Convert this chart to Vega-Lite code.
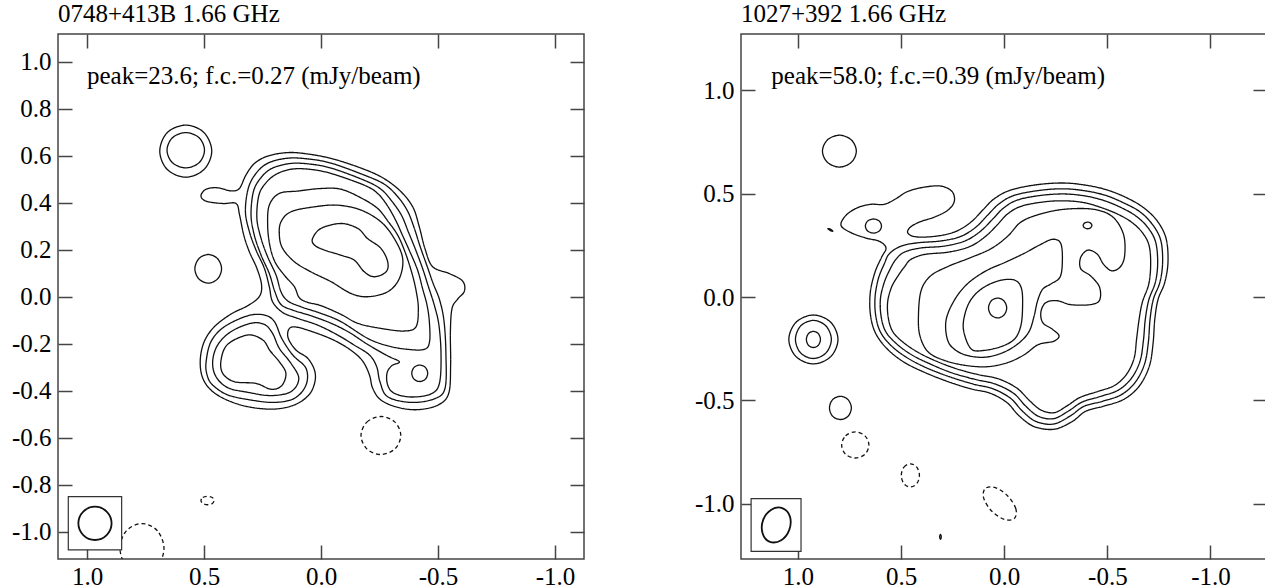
{
"$schema":"https://vega.github.io/schema/vega-lite/v6.json",
"background":"white",
"padding":{"left":10,"top":1,"right":0,"bottom":0},
"config":{
 "font":"Liberation Serif",
 "view":{"stroke":"#444","strokeWidth":1.5},
 "axis":{"domain":false,"grid":false,"tickColor":"#444","tickWidth":1.5,"tickSize":-14,"labelPadding":21,"labelFont":"Liberation Serif","labelFontSize":25,"labelColor":"black","title":null,"zindex":1},
 "axisBottom":{"labelPadding":19},
 "title":{"font":"Liberation Serif","fontSize":25,"fontWeight":"normal","anchor":"start","frame":"group","color":"black","offset":6}
},
"datasets":{
"A":[
{"c":"L1","i":0,"x":0.513,"y":0.430,"s":"p"},{"c":"L1","i":1,"x":0.491,"y":0.458,"s":"p"},{"c":"L1","i":2,"x":0.442,"y":0.464,"s":"p"},{"c":"L1","i":3,"x":0.385,"y":0.451,"s":"p"},{"c":"L1","i":4,"x":0.349,"y":0.461,"s":"p"},{"c":"L1","i":5,"x":0.321,"y":0.518,"s":"p"},{"c":"L1","i":6,"x":0.285,"y":0.567,"s":"p"},{"c":"L1","i":7,"x":0.228,"y":0.599,"s":"p"},{"c":"L1","i":8,"x":0.142,"y":0.614,"s":"p"},{"c":"L1","i":9,"x":0.057,"y":0.608,"s":"p"},{"c":"L1","i":10,"x":-0.043,"y":0.589,"s":"p"},{"c":"L1","i":11,"x":-0.157,"y":0.553,"s":"p"},{"c":"L1","i":12,"x":-0.256,"y":0.511,"s":"p"},{"c":"L1","i":13,"x":-0.335,"y":0.454,"s":"p"},{"c":"L1","i":14,"x":-0.392,"y":0.383,"s":"p"},{"c":"L1","i":15,"x":-0.420,"y":0.298,"s":"p"},{"c":"L1","i":16,"x":-0.444,"y":0.206,"s":"p"},{"c":"L1","i":17,"x":-0.477,"y":0.128,"s":"p"},{"c":"L1","i":18,"x":-0.548,"y":0.099,"s":"p"},{"c":"L1","i":19,"x":-0.605,"y":0.067,"s":"p"},{"c":"L1","i":20,"x":-0.613,"y":0.024,"s":"p"},{"c":"L1","i":21,"x":-0.584,"y":-0.010,"s":"p"},{"c":"L1","i":22,"x":-0.560,"y":-0.050,"s":"p"},{"c":"L1","i":23,"x":-0.553,"y":-0.149,"s":"p"},{"c":"L1","i":24,"x":-0.554,"y":-0.291,"s":"p"},{"c":"L1","i":25,"x":-0.546,"y":-0.411,"s":"p"},{"c":"L1","i":26,"x":-0.501,"y":-0.461,"s":"p"},{"c":"L1","i":27,"x":-0.413,"y":-0.481,"s":"p"},{"c":"L1","i":28,"x":-0.328,"y":-0.471,"s":"p"},{"c":"L1","i":29,"x":-0.256,"y":-0.440,"s":"p"},{"c":"L1","i":30,"x":-0.221,"y":-0.390,"s":"p"},{"c":"L1","i":31,"x":-0.207,"y":-0.333,"s":"p"},{"c":"L1","i":32,"x":-0.178,"y":-0.274,"s":"p"},{"c":"L1","i":33,"x":-0.128,"y":-0.228,"s":"p"},{"c":"L1","i":34,"x":-0.057,"y":-0.186,"s":"p"},{"c":"L1","i":35,"x":0.028,"y":-0.152,"s":"p"},{"c":"L1","i":36,"x":0.107,"y":-0.129,"s":"p"},{"c":"L1","i":37,"x":0.137,"y":-0.138,"s":"p"},{"c":"L1","i":38,"x":0.140,"y":-0.177,"s":"p"},{"c":"L1","i":39,"x":0.107,"y":-0.227,"s":"p"},{"c":"L1","i":40,"x":0.057,"y":-0.262,"s":"p"},{"c":"L1","i":41,"x":0.028,"y":-0.312,"s":"p"},{"c":"L1","i":42,"x":0.026,"y":-0.362,"s":"p"},{"c":"L1","i":43,"x":0.050,"y":-0.416,"s":"p"},{"c":"L1","i":44,"x":0.107,"y":-0.458,"s":"p"},{"c":"L1","i":45,"x":0.192,"y":-0.478,"s":"p"},{"c":"L1","i":46,"x":0.292,"y":-0.472,"s":"p"},{"c":"L1","i":47,"x":0.385,"y":-0.447,"s":"p"},{"c":"L1","i":48,"x":0.463,"y":-0.404,"s":"p"},{"c":"L1","i":49,"x":0.506,"y":-0.345,"s":"p"},{"c":"L1","i":50,"x":0.516,"y":-0.269,"s":"p"},{"c":"L1","i":51,"x":0.499,"y":-0.191,"s":"p"},{"c":"L1","i":52,"x":0.456,"y":-0.128,"s":"p"},{"c":"L1","i":53,"x":0.385,"y":-0.074,"s":"p"},{"c":"L1","i":54,"x":0.313,"y":-0.038,"s":"p"},{"c":"L1","i":55,"x":0.264,"y":0.000,"s":"p"},{"c":"L1","i":56,"x":0.254,"y":0.050,"s":"p"},{"c":"L1","i":57,"x":0.274,"y":0.121,"s":"p"},{"c":"L1","i":58,"x":0.306,"y":0.191,"s":"p"},{"c":"L1","i":59,"x":0.330,"y":0.262,"s":"p"},{"c":"L1","i":60,"x":0.348,"y":0.348,"s":"p"},{"c":"L1","i":61,"x":0.363,"y":0.397,"s":"p"},{"c":"L1","i":62,"x":0.420,"y":0.397,"s":"p"},{"c":"L1","i":63,"x":0.491,"y":0.407,"s":"p"},
{"c":"L2","i":0,"x":0.323,"y":0.362,"s":"p"},{"c":"L2","i":1,"x":0.311,"y":0.461,"s":"p"},{"c":"L2","i":2,"x":0.278,"y":0.525,"s":"p"},{"c":"L2","i":3,"x":0.225,"y":0.570,"s":"p"},{"c":"L2","i":4,"x":0.142,"y":0.590,"s":"p"},{"c":"L2","i":5,"x":0.057,"y":0.587,"s":"p"},{"c":"L2","i":6,"x":-0.043,"y":0.569,"s":"p"},{"c":"L2","i":7,"x":-0.185,"y":0.518,"s":"p"},{"c":"L2","i":8,"x":-0.271,"y":0.479,"s":"p"},{"c":"L2","i":9,"x":-0.328,"y":0.426,"s":"p"},{"c":"L2","i":10,"x":-0.370,"y":0.365,"s":"p"},{"c":"L2","i":11,"x":-0.399,"y":0.291,"s":"p"},{"c":"L2","i":12,"x":-0.424,"y":0.213,"s":"p"},{"c":"L2","i":13,"x":-0.456,"y":0.123,"s":"p"},{"c":"L2","i":14,"x":-0.479,"y":0.057,"s":"p"},{"c":"L2","i":15,"x":-0.507,"y":-0.014,"s":"p"},{"c":"L2","i":16,"x":-0.526,"y":-0.106,"s":"p"},{"c":"L2","i":17,"x":-0.534,"y":-0.248,"s":"p"},{"c":"L2","i":18,"x":-0.530,"y":-0.390,"s":"p"},{"c":"L2","i":19,"x":-0.484,"y":-0.435,"s":"p"},{"c":"L2","i":20,"x":-0.385,"y":-0.450,"s":"p"},{"c":"L2","i":21,"x":-0.285,"y":-0.426,"s":"p"},{"c":"L2","i":22,"x":-0.252,"y":-0.362,"s":"p"},{"c":"L2","i":23,"x":-0.238,"y":-0.298,"s":"p"},{"c":"L2","i":24,"x":-0.207,"y":-0.248,"s":"p"},{"c":"L2","i":25,"x":-0.142,"y":-0.206,"s":"p"},{"c":"L2","i":26,"x":-0.071,"y":-0.163,"s":"p"},{"c":"L2","i":27,"x":0.014,"y":-0.121,"s":"p"},{"c":"L2","i":28,"x":0.100,"y":-0.092,"s":"p"},{"c":"L2","i":29,"x":0.164,"y":-0.067,"s":"p"},{"c":"L2","i":30,"x":0.207,"y":-0.021,"s":"p"},{"c":"L2","i":31,"x":0.221,"y":0.043,"s":"p"},{"c":"L2","i":32,"x":0.242,"y":0.121,"s":"p"},{"c":"L2","i":33,"x":0.278,"y":0.199,"s":"p"},{"c":"L2","i":34,"x":0.306,"y":0.277,"s":"p"},
{"c":"L3","i":0,"x":0.299,"y":0.348,"s":"p"},{"c":"L3","i":1,"x":0.289,"y":0.447,"s":"p"},{"c":"L3","i":2,"x":0.259,"y":0.504,"s":"p"},{"c":"L3","i":3,"x":0.211,"y":0.546,"s":"p"},{"c":"L3","i":4,"x":0.135,"y":0.567,"s":"p"},{"c":"L3","i":5,"x":0.057,"y":0.566,"s":"p"},{"c":"L3","i":6,"x":-0.043,"y":0.548,"s":"p"},{"c":"L3","i":7,"x":-0.185,"y":0.496,"s":"p"},{"c":"L3","i":8,"x":-0.256,"y":0.458,"s":"p"},{"c":"L3","i":9,"x":-0.305,"y":0.404,"s":"p"},{"c":"L3","i":10,"x":-0.345,"y":0.345,"s":"p"},{"c":"L3","i":11,"x":-0.373,"y":0.277,"s":"p"},{"c":"L3","i":12,"x":-0.402,"y":0.206,"s":"p"},{"c":"L3","i":13,"x":-0.434,"y":0.121,"s":"p"},{"c":"L3","i":14,"x":-0.459,"y":0.043,"s":"p"},{"c":"L3","i":15,"x":-0.484,"y":-0.035,"s":"p"},{"c":"L3","i":16,"x":-0.504,"y":-0.121,"s":"p"},{"c":"L3","i":17,"x":-0.513,"y":-0.248,"s":"p"},{"c":"L3","i":18,"x":-0.506,"y":-0.369,"s":"p"},{"c":"L3","i":19,"x":-0.470,"y":-0.414,"s":"p"},{"c":"L3","i":20,"x":-0.385,"y":-0.427,"s":"p"},{"c":"L3","i":21,"x":-0.313,"y":-0.411,"s":"p"},{"c":"L3","i":22,"x":-0.285,"y":-0.376,"s":"p"},{"c":"L3","i":23,"x":-0.282,"y":-0.326,"s":"p"},{"c":"L3","i":24,"x":-0.302,"y":-0.294,"s":"p"},{"c":"L3","i":25,"x":-0.335,"y":-0.277,"s":"p"},{"c":"L3","i":26,"x":-0.285,"y":-0.252,"s":"p"},{"c":"L3","i":27,"x":-0.199,"y":-0.203,"s":"p"},{"c":"L3","i":28,"x":-0.121,"y":-0.152,"s":"p"},{"c":"L3","i":29,"x":-0.043,"y":-0.113,"s":"p"},{"c":"L3","i":30,"x":0.043,"y":-0.081,"s":"p"},{"c":"L3","i":31,"x":0.121,"y":-0.057,"s":"p"},{"c":"L3","i":32,"x":0.171,"y":-0.033,"s":"p"},{"c":"L3","i":33,"x":0.197,"y":0.021,"s":"p"},{"c":"L3","i":34,"x":0.221,"y":0.099,"s":"p"},{"c":"L3","i":35,"x":0.256,"y":0.177,"s":"p"},{"c":"L3","i":36,"x":0.285,"y":0.262,"s":"p"},
{"c":"L4","i":0,"x":0.274,"y":0.333,"s":"p"},{"c":"L4","i":1,"x":0.266,"y":0.430,"s":"p"},{"c":"L4","i":2,"x":0.238,"y":0.482,"s":"p"},{"c":"L4","i":3,"x":0.191,"y":0.522,"s":"p"},{"c":"L4","i":4,"x":0.128,"y":0.543,"s":"p"},{"c":"L4","i":5,"x":0.050,"y":0.543,"s":"p"},{"c":"L4","i":6,"x":-0.043,"y":0.525,"s":"p"},{"c":"L4","i":7,"x":-0.185,"y":0.475,"s":"p"},{"c":"L4","i":8,"x":-0.242,"y":0.440,"s":"p"},{"c":"L4","i":9,"x":-0.285,"y":0.386,"s":"p"},{"c":"L4","i":10,"x":-0.321,"y":0.322,"s":"p"},{"c":"L4","i":11,"x":-0.349,"y":0.260,"s":"p"},{"c":"L4","i":12,"x":-0.379,"y":0.194,"s":"p"},{"c":"L4","i":13,"x":-0.413,"y":0.113,"s":"p"},{"c":"L4","i":14,"x":-0.434,"y":0.035,"s":"p"},{"c":"L4","i":15,"x":-0.453,"y":-0.035,"s":"p"},{"c":"L4","i":16,"x":-0.463,"y":-0.106,"s":"p"},{"c":"L4","i":17,"x":-0.464,"y":-0.191,"s":"p"},{"c":"L4","i":18,"x":-0.442,"y":-0.224,"s":"p"},{"c":"L4","i":19,"x":-0.370,"y":-0.224,"s":"p"},{"c":"L4","i":20,"x":-0.285,"y":-0.209,"s":"p"},{"c":"L4","i":21,"x":-0.199,"y":-0.177,"s":"p"},{"c":"L4","i":22,"x":-0.085,"y":-0.106,"s":"p"},{"c":"L4","i":23,"x":0.000,"y":-0.071,"s":"p"},{"c":"L4","i":24,"x":0.085,"y":-0.043,"s":"p"},{"c":"L4","i":25,"x":0.142,"y":-0.018,"s":"p"},{"c":"L4","i":26,"x":0.171,"y":0.021,"s":"p"},{"c":"L4","i":27,"x":0.192,"y":0.092,"s":"p"},{"c":"L4","i":28,"x":0.228,"y":0.170,"s":"p"},{"c":"L4","i":29,"x":0.256,"y":0.248,"s":"p"},
{"c":"L5","i":0,"x":0.228,"y":0.305,"s":"p"},{"c":"L5","i":1,"x":0.221,"y":0.390,"s":"p"},{"c":"L5","i":2,"x":0.178,"y":0.440,"s":"p"},{"c":"L5","i":3,"x":0.100,"y":0.450,"s":"p"},{"c":"L5","i":4,"x":0.000,"y":0.461,"s":"p"},{"c":"L5","i":5,"x":-0.085,"y":0.458,"s":"p"},{"c":"L5","i":6,"x":-0.171,"y":0.421,"s":"p"},{"c":"L5","i":7,"x":-0.242,"y":0.376,"s":"p"},{"c":"L5","i":8,"x":-0.288,"y":0.319,"s":"p"},{"c":"L5","i":9,"x":-0.328,"y":0.262,"s":"p"},{"c":"L5","i":10,"x":-0.359,"y":0.191,"s":"p"},{"c":"L5","i":11,"x":-0.387,"y":0.106,"s":"p"},{"c":"L5","i":12,"x":-0.406,"y":0.028,"s":"p"},{"c":"L5","i":13,"x":-0.416,"y":-0.050,"s":"p"},{"c":"L5","i":14,"x":-0.406,"y":-0.128,"s":"p"},{"c":"L5","i":15,"x":-0.356,"y":-0.146,"s":"p"},{"c":"L5","i":16,"x":-0.256,"y":-0.135,"s":"p"},{"c":"L5","i":17,"x":-0.157,"y":-0.113,"s":"p"},{"c":"L5","i":18,"x":-0.085,"y":-0.075,"s":"p"},{"c":"L5","i":19,"x":0.000,"y":-0.038,"s":"p"},{"c":"L5","i":20,"x":0.057,"y":-0.024,"s":"p"},{"c":"L5","i":21,"x":0.093,"y":-0.004,"s":"p"},{"c":"L5","i":22,"x":0.114,"y":0.043,"s":"p"},{"c":"L5","i":23,"x":0.157,"y":0.092,"s":"p"},{"c":"L5","i":24,"x":0.197,"y":0.149,"s":"p"},{"c":"L5","i":25,"x":0.219,"y":0.220,"s":"p"},
{"c":"L6","i":0,"x":0.171,"y":0.319,"s":"p"},{"c":"L6","i":1,"x":0.128,"y":0.362,"s":"p"},{"c":"L6","i":2,"x":0.028,"y":0.383,"s":"p"},{"c":"L6","i":3,"x":-0.071,"y":0.390,"s":"p"},{"c":"L6","i":4,"x":-0.171,"y":0.369,"s":"p"},{"c":"L6","i":5,"x":-0.256,"y":0.319,"s":"p"},{"c":"L6","i":6,"x":-0.313,"y":0.248,"s":"p"},{"c":"L6","i":7,"x":-0.349,"y":0.163,"s":"p"},{"c":"L6","i":8,"x":-0.335,"y":0.078,"s":"p"},{"c":"L6","i":9,"x":-0.285,"y":0.021,"s":"p"},{"c":"L6","i":10,"x":-0.199,"y":0.000,"s":"p"},{"c":"L6","i":11,"x":-0.128,"y":0.014,"s":"p"},{"c":"L6","i":12,"x":-0.043,"y":0.064,"s":"p"},{"c":"L6","i":13,"x":0.043,"y":0.106,"s":"p"},{"c":"L6","i":14,"x":0.114,"y":0.149,"s":"p"},{"c":"L6","i":15,"x":0.164,"y":0.206,"s":"p"},{"c":"L6","i":16,"x":0.178,"y":0.262,"s":"p"},
{"c":"L7","i":0,"x":0.036,"y":0.248,"s":"p"},{"c":"L7","i":1,"x":0.000,"y":0.291,"s":"p"},{"c":"L7","i":2,"x":-0.085,"y":0.312,"s":"p"},{"c":"L7","i":3,"x":-0.157,"y":0.291,"s":"p"},{"c":"L7","i":4,"x":-0.199,"y":0.248,"s":"p"},{"c":"L7","i":5,"x":-0.256,"y":0.206,"s":"p"},{"c":"L7","i":6,"x":-0.285,"y":0.149,"s":"p"},{"c":"L7","i":7,"x":-0.278,"y":0.106,"s":"p"},{"c":"L7","i":8,"x":-0.228,"y":0.085,"s":"p"},{"c":"L7","i":9,"x":-0.185,"y":0.106,"s":"p"},{"c":"L7","i":10,"x":-0.142,"y":0.156,"s":"p"},{"c":"L7","i":11,"x":-0.085,"y":0.177,"s":"p"},{"c":"L7","i":12,"x":-0.014,"y":0.199,"s":"p"},{"c":"L7","i":13,"x":0.028,"y":0.220,"s":"p"},
{"c":"M2","i":0,"x":0.491,"y":-0.277,"s":"p"},{"c":"M2","i":1,"x":0.470,"y":-0.191,"s":"p"},{"c":"M2","i":2,"x":0.413,"y":-0.128,"s":"p"},{"c":"M2","i":3,"x":0.313,"y":-0.081,"s":"p"},{"c":"M2","i":4,"x":0.242,"y":-0.078,"s":"p"},{"c":"M2","i":5,"x":0.199,"y":-0.106,"s":"p"},{"c":"M2","i":6,"x":0.168,"y":-0.177,"s":"p"},{"c":"M2","i":7,"x":0.121,"y":-0.248,"s":"p"},{"c":"M2","i":8,"x":0.064,"y":-0.305,"s":"p"},{"c":"M2","i":9,"x":0.064,"y":-0.376,"s":"p"},{"c":"M2","i":10,"x":0.114,"y":-0.433,"s":"p"},{"c":"M2","i":11,"x":0.199,"y":-0.450,"s":"p"},{"c":"M2","i":12,"x":0.299,"y":-0.440,"s":"p"},{"c":"M2","i":13,"x":0.399,"y":-0.418,"s":"p"},{"c":"M2","i":14,"x":0.463,"y":-0.376,"s":"p"},{"c":"M2","i":15,"x":0.487,"y":-0.333,"s":"p"},
{"c":"M3","i":0,"x":0.463,"y":-0.277,"s":"p"},{"c":"M3","i":1,"x":0.442,"y":-0.206,"s":"p"},{"c":"M3","i":2,"x":0.385,"y":-0.149,"s":"p"},{"c":"M3","i":3,"x":0.299,"y":-0.113,"s":"p"},{"c":"M3","i":4,"x":0.242,"y":-0.118,"s":"p"},{"c":"M3","i":5,"x":0.207,"y":-0.156,"s":"p"},{"c":"M3","i":6,"x":0.178,"y":-0.220,"s":"p"},{"c":"M3","i":7,"x":0.128,"y":-0.284,"s":"p"},{"c":"M3","i":8,"x":0.095,"y":-0.348,"s":"p"},{"c":"M3","i":9,"x":0.128,"y":-0.404,"s":"p"},{"c":"M3","i":10,"x":0.214,"y":-0.421,"s":"p"},{"c":"M3","i":11,"x":0.313,"y":-0.407,"s":"p"},{"c":"M3","i":12,"x":0.399,"y":-0.387,"s":"p"},{"c":"M3","i":13,"x":0.449,"y":-0.340,"s":"p"},
{"c":"M4","i":0,"x":0.427,"y":-0.269,"s":"p"},{"c":"M4","i":1,"x":0.399,"y":-0.203,"s":"p"},{"c":"M4","i":2,"x":0.313,"y":-0.163,"s":"p"},{"c":"M4","i":3,"x":0.249,"y":-0.184,"s":"p"},{"c":"M4","i":4,"x":0.217,"y":-0.231,"s":"p"},{"c":"M4","i":5,"x":0.178,"y":-0.277,"s":"p"},{"c":"M4","i":6,"x":0.150,"y":-0.326,"s":"p"},{"c":"M4","i":7,"x":0.168,"y":-0.379,"s":"p"},{"c":"M4","i":8,"x":0.214,"y":-0.394,"s":"p"},{"c":"M4","i":9,"x":0.278,"y":-0.369,"s":"p"},{"c":"M4","i":10,"x":0.370,"y":-0.362,"s":"p"},{"c":"M4","i":11,"x":0.420,"y":-0.326,"s":"p"},
{"c":"E1","i":0,"x":0.689,"y":0.620,"s":"p"},{"c":"E1","i":1,"x":0.657,"y":0.699,"s":"p"},{"c":"E1","i":2,"x":0.578,"y":0.731,"s":"p"},{"c":"E1","i":3,"x":0.500,"y":0.699,"s":"p"},{"c":"E1","i":4,"x":0.467,"y":0.620,"s":"p"},{"c":"E1","i":5,"x":0.500,"y":0.542,"s":"p"},{"c":"E1","i":6,"x":0.578,"y":0.509,"s":"p"},{"c":"E1","i":7,"x":0.657,"y":0.542,"s":"p"},
{"c":"E2","i":0,"x":0.658,"y":0.624,"s":"p"},{"c":"E2","i":1,"x":0.635,"y":0.677,"s":"p"},{"c":"E2","i":2,"x":0.578,"y":0.699,"s":"p"},{"c":"E2","i":3,"x":0.521,"y":0.677,"s":"p"},{"c":"E2","i":4,"x":0.498,"y":0.624,"s":"p"},{"c":"E2","i":5,"x":0.521,"y":0.571,"s":"p"},{"c":"E2","i":6,"x":0.578,"y":0.549,"s":"p"},{"c":"E2","i":7,"x":0.635,"y":0.571,"s":"p"},
{"c":"E3","i":0,"x":0.539,"y":0.119,"s":"p"},{"c":"E3","i":1,"x":0.522,"y":0.162,"s":"p"},{"c":"E3","i":2,"x":0.482,"y":0.180,"s":"p"},{"c":"E3","i":3,"x":0.442,"y":0.162,"s":"p"},{"c":"E3","i":4,"x":0.425,"y":0.119,"s":"p"},{"c":"E3","i":5,"x":0.442,"y":0.076,"s":"p"},{"c":"E3","i":6,"x":0.482,"y":0.058,"s":"p"},{"c":"E3","i":7,"x":0.522,"y":0.076,"s":"p"},
{"c":"E4","i":0,"x":-0.388,"y":-0.326,"s":"p"},{"c":"E4","i":1,"x":-0.398,"y":-0.301,"s":"p"},{"c":"E4","i":2,"x":-0.422,"y":-0.291,"s":"p"},{"c":"E4","i":3,"x":-0.446,"y":-0.301,"s":"p"},{"c":"E4","i":4,"x":-0.456,"y":-0.326,"s":"p"},{"c":"E4","i":5,"x":-0.446,"y":-0.351,"s":"p"},{"c":"E4","i":6,"x":-0.422,"y":-0.361,"s":"p"},{"c":"E4","i":7,"x":-0.398,"y":-0.351,"s":"p"},
{"c":"N1","i":0,"x":-0.171,"y":-0.591,"s":"n"},{"c":"N1","i":1,"x":-0.196,"y":-0.534,"s":"n"},{"c":"N1","i":2,"x":-0.256,"y":-0.510,"s":"n"},{"c":"N1","i":3,"x":-0.316,"y":-0.534,"s":"n"},{"c":"N1","i":4,"x":-0.341,"y":-0.591,"s":"n"},{"c":"N1","i":5,"x":-0.316,"y":-0.648,"s":"n"},{"c":"N1","i":6,"x":-0.256,"y":-0.672,"s":"n"},{"c":"N1","i":7,"x":-0.196,"y":-0.648,"s":"n"},
{"c":"N2","i":0,"x":0.513,"y":-0.868,"s":"n"},{"c":"N2","i":1,"x":0.505,"y":-0.855,"s":"n"},{"c":"N2","i":2,"x":0.485,"y":-0.850,"s":"n"},{"c":"N2","i":3,"x":0.465,"y":-0.855,"s":"n"},{"c":"N2","i":4,"x":0.457,"y":-0.868,"s":"n"},{"c":"N2","i":5,"x":0.465,"y":-0.881,"s":"n"},{"c":"N2","i":6,"x":0.485,"y":-0.886,"s":"n"},{"c":"N2","i":7,"x":0.505,"y":-0.881,"s":"n"},
{"c":"N3","i":0,"x":0.671,"y":-1.072,"s":"n"},{"c":"N3","i":1,"x":0.699,"y":-0.997,"s":"n"},{"c":"N3","i":2,"x":0.765,"y":-0.966,"s":"n"},{"c":"N3","i":3,"x":0.832,"y":-0.997,"s":"n"},{"c":"N3","i":4,"x":0.859,"y":-1.072,"s":"n"},{"c":"N3","i":5,"x":0.832,"y":-1.147,"s":"n"},{"c":"N3","i":6,"x":0.765,"y":-1.178,"s":"n"},{"c":"N3","i":7,"x":0.699,"y":-1.147,"s":"n"}
],
"AB":[
{"i":0,"x":1.037,"y":-0.965},{"i":1,"x":1.016,"y":-0.915},{"i":2,"x":0.966,"y":-0.894},{"i":3,"x":0.916,"y":-0.915},{"i":4,"x":0.895,"y":-0.965},{"i":5,"x":0.916,"y":-1.015},{"i":6,"x":0.966,"y":-1.036},{"i":7,"x":1.016,"y":-1.015}
],
"AX":[{"x1":1.080,"x2":0.852,"y1":-0.851,"y2":-1.078}],
"B":[
{"c":"R1","i":0,"x":0.791,"y":0.346,"s":"p"},{"c":"R1","i":1,"x":0.743,"y":0.311,"s":"p"},{"c":"R1","i":2,"x":0.670,"y":0.285,"s":"p"},{"c":"R1","i":3,"x":0.605,"y":0.269,"s":"p"},{"c":"R1","i":4,"x":0.573,"y":0.237,"s":"p"},{"c":"R1","i":5,"x":0.594,"y":0.193,"s":"p"},{"c":"R1","i":6,"x":0.626,"y":0.121,"s":"p"},{"c":"R1","i":7,"x":0.649,"y":0.024,"s":"p"},{"c":"R1","i":8,"x":0.649,"y":-0.081,"s":"p"},{"c":"R1","i":9,"x":0.625,"y":-0.172,"s":"p"},{"c":"R1","i":10,"x":0.568,"y":-0.250,"s":"p"},{"c":"R1","i":11,"x":0.487,"y":-0.314,"s":"p"},{"c":"R1","i":12,"x":0.391,"y":-0.362,"s":"p"},{"c":"R1","i":13,"x":0.278,"y":-0.407,"s":"p"},{"c":"R1","i":14,"x":0.165,"y":-0.443,"s":"p"},{"c":"R1","i":15,"x":0.068,"y":-0.465,"s":"p"},{"c":"R1","i":16,"x":-0.013,"y":-0.510,"s":"p"},{"c":"R1","i":17,"x":-0.073,"y":-0.575,"s":"p"},{"c":"R1","i":18,"x":-0.145,"y":-0.626,"s":"p"},{"c":"R1","i":19,"x":-0.242,"y":-0.639,"s":"p"},{"c":"R1","i":20,"x":-0.331,"y":-0.601,"s":"p"},{"c":"R1","i":21,"x":-0.395,"y":-0.552,"s":"p"},{"c":"R1","i":22,"x":-0.484,"y":-0.527,"s":"p"},{"c":"R1","i":23,"x":-0.581,"y":-0.494,"s":"p"},{"c":"R1","i":24,"x":-0.655,"y":-0.430,"s":"p"},{"c":"R1","i":25,"x":-0.704,"y":-0.333,"s":"p"},{"c":"R1","i":26,"x":-0.722,"y":-0.221,"s":"p"},{"c":"R1","i":27,"x":-0.730,"y":-0.108,"s":"p"},{"c":"R1","i":28,"x":-0.746,"y":-0.011,"s":"p"},{"c":"R1","i":29,"x":-0.778,"y":0.069,"s":"p"},{"c":"R1","i":30,"x":-0.794,"y":0.169,"s":"p"},{"c":"R1","i":31,"x":-0.785,"y":0.282,"s":"p"},{"c":"R1","i":32,"x":-0.743,"y":0.366,"s":"p"},{"c":"R1","i":33,"x":-0.678,"y":0.430,"s":"p"},{"c":"R1","i":34,"x":-0.597,"y":0.478,"s":"p"},{"c":"R1","i":35,"x":-0.500,"y":0.517,"s":"p"},{"c":"R1","i":36,"x":-0.404,"y":0.539,"s":"p"},{"c":"R1","i":37,"x":-0.291,"y":0.551,"s":"p"},{"c":"R1","i":38,"x":-0.161,"y":0.543,"s":"p"},{"c":"R1","i":39,"x":-0.032,"y":0.517,"s":"p"},{"c":"R1","i":40,"x":0.048,"y":0.475,"s":"p"},{"c":"R1","i":41,"x":0.105,"y":0.419,"s":"p"},{"c":"R1","i":42,"x":0.161,"y":0.362,"s":"p"},{"c":"R1","i":43,"x":0.234,"y":0.317,"s":"p"},{"c":"R1","i":44,"x":0.323,"y":0.295,"s":"p"},{"c":"R1","i":45,"x":0.420,"y":0.290,"s":"p"},{"c":"R1","i":46,"x":0.465,"y":0.306,"s":"p"},{"c":"R1","i":47,"x":0.460,"y":0.333,"s":"p"},{"c":"R1","i":48,"x":0.412,"y":0.362,"s":"p"},{"c":"R1","i":49,"x":0.339,"y":0.386,"s":"p"},{"c":"R1","i":50,"x":0.274,"y":0.419,"s":"p"},{"c":"R1","i":51,"x":0.242,"y":0.462,"s":"p"},{"c":"R1","i":52,"x":0.253,"y":0.510,"s":"p"},{"c":"R1","i":53,"x":0.307,"y":0.536,"s":"p"},{"c":"R1","i":54,"x":0.387,"y":0.531,"s":"p"},{"c":"R1","i":55,"x":0.468,"y":0.510,"s":"p"},{"c":"R1","i":56,"x":0.525,"y":0.475,"s":"p"},{"c":"R1","i":57,"x":0.581,"y":0.448,"s":"p"},{"c":"R1","i":58,"x":0.646,"y":0.448,"s":"p"},{"c":"R1","i":59,"x":0.710,"y":0.432,"s":"p"},{"c":"R1","i":60,"x":0.767,"y":0.395,"s":"p"},
{"c":"R2","i":0,"x":0.557,"y":0.209,"s":"p"},{"c":"R2","i":1,"x":0.581,"y":0.161,"s":"p"},{"c":"R2","i":2,"x":0.610,"y":0.089,"s":"p"},{"c":"R2","i":3,"x":0.626,"y":0.000,"s":"p"},{"c":"R2","i":4,"x":0.623,"y":-0.089,"s":"p"},{"c":"R2","i":5,"x":0.600,"y":-0.169,"s":"p"},{"c":"R2","i":6,"x":0.546,"y":-0.237,"s":"p"},{"c":"R2","i":7,"x":0.468,"y":-0.295,"s":"p"},{"c":"R2","i":8,"x":0.375,"y":-0.343,"s":"p"},{"c":"R2","i":9,"x":0.266,"y":-0.385,"s":"p"},{"c":"R2","i":10,"x":0.153,"y":-0.420,"s":"p"},{"c":"R2","i":11,"x":0.056,"y":-0.443,"s":"p"},{"c":"R2","i":12,"x":-0.029,"y":-0.488,"s":"p"},{"c":"R2","i":13,"x":-0.089,"y":-0.552,"s":"p"},{"c":"R2","i":14,"x":-0.153,"y":-0.601,"s":"p"},{"c":"R2","i":15,"x":-0.239,"y":-0.614,"s":"p"},{"c":"R2","i":16,"x":-0.320,"y":-0.575,"s":"p"},{"c":"R2","i":17,"x":-0.387,"y":-0.528,"s":"p"},{"c":"R2","i":18,"x":-0.476,"y":-0.504,"s":"p"},{"c":"R2","i":19,"x":-0.568,"y":-0.472,"s":"p"},{"c":"R2","i":20,"x":-0.636,"y":-0.411,"s":"p"},{"c":"R2","i":21,"x":-0.681,"y":-0.322,"s":"p"},{"c":"R2","i":22,"x":-0.699,"y":-0.217,"s":"p"},{"c":"R2","i":23,"x":-0.707,"y":-0.108,"s":"p"},{"c":"R2","i":24,"x":-0.723,"y":-0.011,"s":"p"},{"c":"R2","i":25,"x":-0.755,"y":0.072,"s":"p"},{"c":"R2","i":26,"x":-0.768,"y":0.169,"s":"p"},{"c":"R2","i":27,"x":-0.759,"y":0.274,"s":"p"},{"c":"R2","i":28,"x":-0.720,"y":0.349,"s":"p"},{"c":"R2","i":29,"x":-0.659,"y":0.411,"s":"p"},{"c":"R2","i":30,"x":-0.581,"y":0.454,"s":"p"},{"c":"R2","i":31,"x":-0.492,"y":0.491,"s":"p"},{"c":"R2","i":32,"x":-0.400,"y":0.512,"s":"p"},{"c":"R2","i":33,"x":-0.291,"y":0.523,"s":"p"},{"c":"R2","i":34,"x":-0.169,"y":0.515,"s":"p"},{"c":"R2","i":35,"x":-0.048,"y":0.491,"s":"p"},{"c":"R2","i":36,"x":0.024,"y":0.451,"s":"p"},{"c":"R2","i":37,"x":0.081,"y":0.395,"s":"p"},{"c":"R2","i":38,"x":0.137,"y":0.338,"s":"p"},{"c":"R2","i":39,"x":0.210,"y":0.293,"s":"p"},{"c":"R2","i":40,"x":0.307,"y":0.271,"s":"p"},{"c":"R2","i":41,"x":0.420,"y":0.262,"s":"p"},{"c":"R2","i":42,"x":0.500,"y":0.246,"s":"p"},
{"c":"R3","i":0,"x":0.525,"y":0.182,"s":"p"},{"c":"R3","i":1,"x":0.552,"y":0.137,"s":"p"},{"c":"R3","i":2,"x":0.581,"y":0.072,"s":"p"},{"c":"R3","i":3,"x":0.600,"y":-0.008,"s":"p"},{"c":"R3","i":4,"x":0.597,"y":-0.092,"s":"p"},{"c":"R3","i":5,"x":0.575,"y":-0.166,"s":"p"},{"c":"R3","i":6,"x":0.523,"y":-0.225,"s":"p"},{"c":"R3","i":7,"x":0.449,"y":-0.279,"s":"p"},{"c":"R3","i":8,"x":0.358,"y":-0.324,"s":"p"},{"c":"R3","i":9,"x":0.255,"y":-0.366,"s":"p"},{"c":"R3","i":10,"x":0.142,"y":-0.398,"s":"p"},{"c":"R3","i":11,"x":0.045,"y":-0.420,"s":"p"},{"c":"R3","i":12,"x":-0.045,"y":-0.465,"s":"p"},{"c":"R3","i":13,"x":-0.105,"y":-0.528,"s":"p"},{"c":"R3","i":14,"x":-0.165,"y":-0.576,"s":"p"},{"c":"R3","i":15,"x":-0.239,"y":-0.588,"s":"p"},{"c":"R3","i":16,"x":-0.310,"y":-0.552,"s":"p"},{"c":"R3","i":17,"x":-0.379,"y":-0.507,"s":"p"},{"c":"R3","i":18,"x":-0.468,"y":-0.480,"s":"p"},{"c":"R3","i":19,"x":-0.555,"y":-0.449,"s":"p"},{"c":"R3","i":20,"x":-0.618,"y":-0.391,"s":"p"},{"c":"R3","i":21,"x":-0.659,"y":-0.308,"s":"p"},{"c":"R3","i":22,"x":-0.675,"y":-0.209,"s":"p"},{"c":"R3","i":23,"x":-0.684,"y":-0.108,"s":"p"},{"c":"R3","i":24,"x":-0.701,"y":-0.014,"s":"p"},{"c":"R3","i":25,"x":-0.733,"y":0.072,"s":"p"},{"c":"R3","i":26,"x":-0.744,"y":0.166,"s":"p"},{"c":"R3","i":27,"x":-0.734,"y":0.266,"s":"p"},{"c":"R3","i":28,"x":-0.697,"y":0.335,"s":"p"},{"c":"R3","i":29,"x":-0.639,"y":0.391,"s":"p"},{"c":"R3","i":30,"x":-0.565,"y":0.433,"s":"p"},{"c":"R3","i":31,"x":-0.481,"y":0.467,"s":"p"},{"c":"R3","i":32,"x":-0.395,"y":0.488,"s":"p"},{"c":"R3","i":33,"x":-0.291,"y":0.498,"s":"p"},{"c":"R3","i":34,"x":-0.178,"y":0.491,"s":"p"},{"c":"R3","i":35,"x":-0.065,"y":0.469,"s":"p"},{"c":"R3","i":36,"x":0.003,"y":0.430,"s":"p"},{"c":"R3","i":37,"x":0.058,"y":0.374,"s":"p"},{"c":"R3","i":38,"x":0.116,"y":0.317,"s":"p"},{"c":"R3","i":39,"x":0.190,"y":0.271,"s":"p"},{"c":"R3","i":40,"x":0.291,"y":0.246,"s":"p"},{"c":"R3","i":41,"x":0.404,"y":0.237,"s":"p"},{"c":"R3","i":42,"x":0.484,"y":0.217,"s":"p"},
{"c":"R4","i":0,"x":0.484,"y":0.145,"s":"p"},{"c":"R4","i":1,"x":0.513,"y":0.105,"s":"p"},{"c":"R4","i":2,"x":0.546,"y":0.048,"s":"p"},{"c":"R4","i":3,"x":0.565,"y":-0.024,"s":"p"},{"c":"R4","i":4,"x":0.562,"y":-0.100,"s":"p"},{"c":"R4","i":5,"x":0.541,"y":-0.166,"s":"p"},{"c":"R4","i":6,"x":0.492,"y":-0.217,"s":"p"},{"c":"R4","i":7,"x":0.420,"y":-0.266,"s":"p"},{"c":"R4","i":8,"x":0.334,"y":-0.308,"s":"p"},{"c":"R4","i":9,"x":0.234,"y":-0.346,"s":"p"},{"c":"R4","i":10,"x":0.126,"y":-0.375,"s":"p"},{"c":"R4","i":11,"x":0.029,"y":-0.395,"s":"p"},{"c":"R4","i":12,"x":-0.061,"y":-0.440,"s":"p"},{"c":"R4","i":13,"x":-0.123,"y":-0.501,"s":"p"},{"c":"R4","i":14,"x":-0.178,"y":-0.546,"s":"p"},{"c":"R4","i":15,"x":-0.242,"y":-0.559,"s":"p"},{"c":"R4","i":16,"x":-0.303,"y":-0.527,"s":"p"},{"c":"R4","i":17,"x":-0.368,"y":-0.485,"s":"p"},{"c":"R4","i":18,"x":-0.455,"y":-0.456,"s":"p"},{"c":"R4","i":19,"x":-0.536,"y":-0.427,"s":"p"},{"c":"R4","i":20,"x":-0.594,"y":-0.372,"s":"p"},{"c":"R4","i":21,"x":-0.630,"y":-0.295,"s":"p"},{"c":"R4","i":22,"x":-0.642,"y":-0.201,"s":"p"},{"c":"R4","i":23,"x":-0.654,"y":-0.108,"s":"p"},{"c":"R4","i":24,"x":-0.670,"y":-0.024,"s":"p"},{"c":"R4","i":25,"x":-0.701,"y":0.063,"s":"p"},{"c":"R4","i":26,"x":-0.710,"y":0.161,"s":"p"},{"c":"R4","i":27,"x":-0.702,"y":0.250,"s":"p"},{"c":"R4","i":28,"x":-0.670,"y":0.311,"s":"p"},{"c":"R4","i":29,"x":-0.617,"y":0.362,"s":"p"},{"c":"R4","i":30,"x":-0.549,"y":0.401,"s":"p"},{"c":"R4","i":31,"x":-0.468,"y":0.433,"s":"p"},{"c":"R4","i":32,"x":-0.387,"y":0.456,"s":"p"},{"c":"R4","i":33,"x":-0.291,"y":0.465,"s":"p"},{"c":"R4","i":34,"x":-0.186,"y":0.459,"s":"p"},{"c":"R4","i":35,"x":-0.081,"y":0.438,"s":"p"},{"c":"R4","i":36,"x":-0.016,"y":0.401,"s":"p"},{"c":"R4","i":37,"x":0.036,"y":0.346,"s":"p"},{"c":"R4","i":38,"x":0.094,"y":0.290,"s":"p"},{"c":"R4","i":39,"x":0.169,"y":0.243,"s":"p"},{"c":"R4","i":40,"x":0.271,"y":0.217,"s":"p"},{"c":"R4","i":41,"x":0.384,"y":0.206,"s":"p"},{"c":"R4","i":42,"x":0.452,"y":0.182,"s":"p"},
{"c":"R5","i":0,"x":0.416,"y":-0.105,"s":"p"},{"c":"R5","i":1,"x":0.404,"y":0.027,"s":"p"},{"c":"R5","i":2,"x":0.358,"y":0.101,"s":"p"},{"c":"R5","i":3,"x":0.274,"y":0.147,"s":"p"},{"c":"R5","i":4,"x":0.169,"y":0.188,"s":"p"},{"c":"R5","i":5,"x":0.065,"y":0.233,"s":"p"},{"c":"R5","i":6,"x":-0.016,"y":0.293,"s":"p"},{"c":"R5","i":7,"x":-0.081,"y":0.362,"s":"p"},{"c":"R5","i":8,"x":-0.169,"y":0.399,"s":"p"},{"c":"R5","i":9,"x":-0.291,"y":0.424,"s":"p"},{"c":"R5","i":10,"x":-0.433,"y":0.424,"s":"p"},{"c":"R5","i":11,"x":-0.525,"y":0.388,"s":"p"},{"c":"R5","i":12,"x":-0.578,"y":0.304,"s":"p"},{"c":"R5","i":13,"x":-0.584,"y":0.201,"s":"p"},{"c":"R5","i":14,"x":-0.562,"y":0.145,"s":"p"},{"c":"R5","i":15,"x":-0.520,"y":0.127,"s":"p"},{"c":"R5","i":16,"x":-0.481,"y":0.159,"s":"p"},{"c":"R5","i":17,"x":-0.452,"y":0.206,"s":"p"},{"c":"R5","i":18,"x":-0.407,"y":0.227,"s":"p"},{"c":"R5","i":19,"x":-0.371,"y":0.192,"s":"p"},{"c":"R5","i":20,"x":-0.371,"y":0.137,"s":"p"},{"c":"R5","i":21,"x":-0.420,"y":0.101,"s":"p"},{"c":"R5","i":22,"x":-0.462,"y":0.048,"s":"p"},{"c":"R5","i":23,"x":-0.462,"y":-0.016,"s":"p"},{"c":"R5","i":24,"x":-0.416,"y":-0.037,"s":"p"},{"c":"R5","i":25,"x":-0.323,"y":-0.037,"s":"p"},{"c":"R5","i":26,"x":-0.258,"y":-0.018,"s":"p"},{"c":"R5","i":27,"x":-0.202,"y":-0.027,"s":"p"},{"c":"R5","i":28,"x":-0.178,"y":-0.072,"s":"p"},{"c":"R5","i":29,"x":-0.187,"y":-0.124,"s":"p"},{"c":"R5","i":30,"x":-0.234,"y":-0.156,"s":"p"},{"c":"R5","i":31,"x":-0.266,"y":-0.188,"s":"p"},{"c":"R5","i":32,"x":-0.239,"y":-0.214,"s":"p"},{"c":"R5","i":33,"x":-0.165,"y":-0.230,"s":"p"},{"c":"R5","i":34,"x":-0.097,"y":-0.279,"s":"p"},{"c":"R5","i":35,"x":-0.016,"y":-0.317,"s":"p"},{"c":"R5","i":36,"x":0.084,"y":-0.337,"s":"p"},{"c":"R5","i":37,"x":0.190,"y":-0.330,"s":"p"},{"c":"R5","i":38,"x":0.291,"y":-0.306,"s":"p"},{"c":"R5","i":39,"x":0.368,"y":-0.266,"s":"p"},{"c":"R5","i":40,"x":0.407,"y":-0.193,"s":"p"},
{"c":"R6","i":0,"x":0.274,"y":-0.209,"s":"p"},{"c":"R6","i":1,"x":0.282,"y":-0.113,"s":"p"},{"c":"R6","i":2,"x":0.242,"y":-0.016,"s":"p"},{"c":"R6","i":3,"x":0.178,"y":0.064,"s":"p"},{"c":"R6","i":4,"x":0.089,"y":0.126,"s":"p"},{"c":"R6","i":5,"x":-0.008,"y":0.169,"s":"p"},{"c":"R6","i":6,"x":-0.097,"y":0.211,"s":"p"},{"c":"R6","i":7,"x":-0.169,"y":0.250,"s":"p"},{"c":"R6","i":8,"x":-0.234,"y":0.279,"s":"p"},{"c":"R6","i":9,"x":-0.274,"y":0.259,"s":"p"},{"c":"R6","i":10,"x":-0.282,"y":0.177,"s":"p"},{"c":"R6","i":11,"x":-0.271,"y":0.097,"s":"p"},{"c":"R6","i":12,"x":-0.226,"y":0.063,"s":"p"},{"c":"R6","i":13,"x":-0.186,"y":0.037,"s":"p"},{"c":"R6","i":14,"x":-0.161,"y":-0.021,"s":"p"},{"c":"R6","i":15,"x":-0.145,"y":-0.092,"s":"p"},{"c":"R6","i":16,"x":-0.121,"y":-0.166,"s":"p"},{"c":"R6","i":17,"x":-0.073,"y":-0.221,"s":"p"},{"c":"R6","i":18,"x":0.000,"y":-0.266,"s":"p"},{"c":"R6","i":19,"x":0.084,"y":-0.290,"s":"p"},{"c":"R6","i":20,"x":0.169,"y":-0.285,"s":"p"},{"c":"R6","i":21,"x":0.234,"y":-0.258,"s":"p"},
{"c":"R7","i":0,"x":0.197,"y":-0.161,"s":"p"},{"c":"R7","i":1,"x":0.190,"y":-0.081,"s":"p"},{"c":"R7","i":2,"x":0.158,"y":-0.008,"s":"p"},{"c":"R7","i":3,"x":0.097,"y":0.048,"s":"p"},{"c":"R7","i":4,"x":0.016,"y":0.081,"s":"p"},{"c":"R7","i":5,"x":-0.052,"y":0.081,"s":"p"},{"c":"R7","i":6,"x":-0.084,"y":0.040,"s":"p"},{"c":"R7","i":7,"x":-0.089,"y":-0.048,"s":"p"},{"c":"R7","i":8,"x":-0.081,"y":-0.137,"s":"p"},{"c":"R7","i":9,"x":-0.052,"y":-0.201,"s":"p"},{"c":"R7","i":10,"x":0.008,"y":-0.237,"s":"p"},{"c":"R7","i":11,"x":0.097,"y":-0.258,"s":"p"},{"c":"R7","i":12,"x":0.161,"y":-0.250,"s":"p"},
{"c":"R8","i":0,"x":-0.012,"y":-0.053,"s":"p"},{"c":"R8","i":1,"x":0.001,"y":-0.019,"s":"p"},{"c":"R8","i":2,"x":0.032,"y":-0.005,"s":"p"},{"c":"R8","i":3,"x":0.063,"y":-0.019,"s":"p"},{"c":"R8","i":4,"x":0.076,"y":-0.053,"s":"p"},{"c":"R8","i":5,"x":0.063,"y":-0.087,"s":"p"},{"c":"R8","i":6,"x":0.032,"y":-0.101,"s":"p"},{"c":"R8","i":7,"x":0.001,"y":-0.087,"s":"p"},
{"c":"Q1","i":0,"x":0.881,"y":0.705,"s":"p"},{"c":"Q1","i":1,"x":0.857,"y":0.759,"s":"p"},{"c":"Q1","i":2,"x":0.799,"y":0.782,"s":"p"},{"c":"Q1","i":3,"x":0.741,"y":0.759,"s":"p"},{"c":"Q1","i":4,"x":0.717,"y":0.705,"s":"p"},{"c":"Q1","i":5,"x":0.741,"y":0.651,"s":"p"},{"c":"Q1","i":6,"x":0.799,"y":0.628,"s":"p"},{"c":"Q1","i":7,"x":0.857,"y":0.651,"s":"p"},
{"c":"Q2","i":0,"x":0.673,"y":0.343,"s":"p"},{"c":"Q2","i":1,"x":0.662,"y":0.367,"s":"p"},{"c":"Q2","i":2,"x":0.634,"y":0.377,"s":"p"},{"c":"Q2","i":3,"x":0.606,"y":0.367,"s":"p"},{"c":"Q2","i":4,"x":0.595,"y":0.343,"s":"p"},{"c":"Q2","i":5,"x":0.606,"y":0.319,"s":"p"},{"c":"Q2","i":6,"x":0.634,"y":0.309,"s":"p"},{"c":"Q2","i":7,"x":0.662,"y":0.319,"s":"p"},
{"c":"Q3","i":0,"x":0.855,"y":0.330,"s":"p"},{"c":"Q3","i":1,"x":0.843,"y":0.328,"s":"p"},{"c":"Q3","i":2,"x":0.831,"y":0.318,"s":"p"},{"c":"Q3","i":3,"x":0.843,"y":0.321,"s":"p"},
{"c":"Q4","i":0,"x":-0.383,"y":0.346,"s":"p"},{"c":"Q4","i":1,"x":-0.389,"y":0.357,"s":"p"},{"c":"Q4","i":2,"x":-0.404,"y":0.362,"s":"p"},{"c":"Q4","i":3,"x":-0.419,"y":0.357,"s":"p"},{"c":"Q4","i":4,"x":-0.425,"y":0.346,"s":"p"},{"c":"Q4","i":5,"x":-0.419,"y":0.335,"s":"p"},{"c":"Q4","i":6,"x":-0.404,"y":0.330,"s":"p"},{"c":"Q4","i":7,"x":-0.389,"y":0.335,"s":"p"},
{"c":"T1","i":0,"x":1.044,"y":-0.205,"s":"p"},{"c":"T1","i":1,"x":1.009,"y":-0.122,"s":"p"},{"c":"T1","i":2,"x":0.925,"y":-0.087,"s":"p"},{"c":"T1","i":3,"x":0.841,"y":-0.122,"s":"p"},{"c":"T1","i":4,"x":0.806,"y":-0.205,"s":"p"},{"c":"T1","i":5,"x":0.841,"y":-0.288,"s":"p"},{"c":"T1","i":6,"x":0.925,"y":-0.323,"s":"p"},{"c":"T1","i":7,"x":1.009,"y":-0.288,"s":"p"},
{"c":"T2","i":0,"x":1.012,"y":-0.205,"s":"p"},{"c":"T2","i":1,"x":0.987,"y":-0.140,"s":"p"},{"c":"T2","i":2,"x":0.925,"y":-0.113,"s":"p"},{"c":"T2","i":3,"x":0.864,"y":-0.140,"s":"p"},{"c":"T2","i":4,"x":0.838,"y":-0.205,"s":"p"},{"c":"T2","i":5,"x":0.864,"y":-0.270,"s":"p"},{"c":"T2","i":6,"x":0.925,"y":-0.297,"s":"p"},{"c":"T2","i":7,"x":0.987,"y":-0.270,"s":"p"},
{"c":"T3","i":0,"x":0.959,"y":-0.205,"s":"p"},{"c":"T3","i":1,"x":0.949,"y":-0.177,"s":"p"},{"c":"T3","i":2,"x":0.925,"y":-0.166,"s":"p"},{"c":"T3","i":3,"x":0.901,"y":-0.177,"s":"p"},{"c":"T3","i":4,"x":0.891,"y":-0.205,"s":"p"},{"c":"T3","i":5,"x":0.901,"y":-0.233,"s":"p"},{"c":"T3","i":6,"x":0.925,"y":-0.244,"s":"p"},{"c":"T3","i":7,"x":0.949,"y":-0.233,"s":"p"},
{"c":"Q5","i":0,"x":0.847,"y":-0.536,"s":"p"},{"c":"Q5","i":1,"x":0.832,"y":-0.496,"s":"p"},{"c":"Q5","i":2,"x":0.794,"y":-0.480,"s":"p"},{"c":"Q5","i":3,"x":0.757,"y":-0.496,"s":"p"},{"c":"Q5","i":4,"x":0.741,"y":-0.536,"s":"p"},{"c":"Q5","i":5,"x":0.757,"y":-0.576,"s":"p"},{"c":"Q5","i":6,"x":0.794,"y":-0.592,"s":"p"},{"c":"Q5","i":7,"x":0.832,"y":-0.576,"s":"p"},
{"c":"Q6","i":0,"x":0.309,"y":-1.147,"s":"p"},{"c":"Q6","i":1,"x":0.305,"y":-1.159,"s":"p"},{"c":"Q6","i":2,"x":0.309,"y":-1.171,"s":"p"},{"c":"Q6","i":3,"x":0.313,"y":-1.159,"s":"p"},
{"c":"P1","i":0,"x":0.788,"y":-0.715,"s":"n"},{"c":"P1","i":1,"x":0.769,"y":-0.671,"s":"n"},{"c":"P1","i":2,"x":0.722,"y":-0.652,"s":"n"},{"c":"P1","i":3,"x":0.675,"y":-0.671,"s":"n"},{"c":"P1","i":4,"x":0.656,"y":-0.715,"s":"n"},{"c":"P1","i":5,"x":0.675,"y":-0.760,"s":"n"},{"c":"P1","i":6,"x":0.722,"y":-0.778,"s":"n"},{"c":"P1","i":7,"x":0.769,"y":-0.760,"s":"n"},
{"c":"P2","i":0,"x":0.499,"y":-0.862,"s":"n"},{"c":"P2","i":1,"x":0.486,"y":-0.822,"s":"n"},{"c":"P2","i":2,"x":0.455,"y":-0.806,"s":"n"},{"c":"P2","i":3,"x":0.424,"y":-0.822,"s":"n"},{"c":"P2","i":4,"x":0.411,"y":-0.862,"s":"n"},{"c":"P2","i":5,"x":0.424,"y":-0.902,"s":"n"},{"c":"P2","i":6,"x":0.455,"y":-0.918,"s":"n"},{"c":"P2","i":7,"x":0.486,"y":-0.902,"s":"n"},
{"c":"P3","i":0,"x":-0.050,"y":-1.069,"s":"n"},{"c":"P3","i":1,"x":-0.056,"y":-1.022,"s":"n"},{"c":"P3","i":2,"x":-0.016,"y":-0.960,"s":"n"},{"c":"P3","i":3,"x":0.046,"y":-0.920,"s":"n"},{"c":"P3","i":4,"x":0.093,"y":-0.926,"s":"n"},{"c":"P3","i":5,"x":0.099,"y":-0.973,"s":"n"},{"c":"P3","i":6,"x":0.060,"y":-1.035,"s":"n"},{"c":"P3","i":7,"x":-0.002,"y":-1.075,"s":"n"}
],
"BB":[
{"i":0,"x":1.076,"y":-1.020},{"i":1,"x":1.039,"y":-1.060},{"i":2,"x":1.042,"y":-1.125},{"i":3,"x":1.081,"y":-1.175},{"i":4,"x":1.136,"y":-1.183},{"i":5,"x":1.171,"y":-1.143},{"i":6,"x":1.169,"y":-1.078},{"i":7,"x":1.129,"y":-1.028}
],
"BX":[{"x1":1.227,"x2":0.985,"y1":-0.974,"y2":-1.229}]
},
"spacing":107,
"hconcat":[
{
 "width":526,"height":525,
 "title":{"text":"0748+413B 1.66 GHz"},
 "layer":[
  {"data":{"name":"A"},
   "mark":{"type":"line","interpolate":"cardinal-closed","clip":true,"color":"#111","strokeWidth":1.3},
   "encoding":{
    "x":{"field":"x","type":"quantitative","scale":{"domain":[1.124,-1.124],"nice":false,"zero":false},"axis":{"orient":"bottom","values":[1,0.5,0,-0.5,-1],"labelExpr":"datum.value < 0 ? '-' + format(-datum.value, '.1f') : format(datum.value, '.1f')"}},
    "y":{"field":"y","type":"quantitative","scale":{"domain":[-1.117,1.119],"nice":false,"zero":false},"axis":{"orient":"left","values":[-1,-0.8,-0.6,-0.4,-0.2,0,0.2,0.4,0.6,0.8,1],"labelExpr":"datum.value < 0 ? '-' + format(-datum.value, '.1f') : format(datum.value, '.1f')"}},
    "detail":{"field":"c","type":"nominal"},
    "order":{"field":"i","type":"quantitative"},
    "strokeDash":{"field":"s","type":"nominal","scale":{"domain":["p","n"],"range":[[1,0],[4,3]]},"legend":null}
   }},
  {"data":{"name":"AX"},
   "mark":{"type":"rect","fill":"white","stroke":"#333","strokeWidth":1.2},
   "encoding":{
    "x":{"field":"x1","type":"quantitative","scale":{"domain":[1.124,-1.124],"nice":false,"zero":false},"axis":{"orient":"top","values":[1,0.5,0,-0.5,-1],"labels":false}},
    "x2":{"field":"x2"},
    "y":{"field":"y1","type":"quantitative","scale":{"domain":[-1.117,1.119],"nice":false,"zero":false},"axis":{"orient":"right","values":[-1,-0.8,-0.6,-0.4,-0.2,0,0.2,0.4,0.6,0.8,1],"labels":false}},
    "y2":{"field":"y2"}
   }},
  {"data":{"name":"AB"},
   "mark":{"type":"line","interpolate":"cardinal-closed","color":"#111","strokeWidth":1.8},
   "encoding":{
    "x":{"field":"x","type":"quantitative","scale":{"domain":[1.124,-1.124],"nice":false,"zero":false},"axis":null},
    "y":{"field":"y","type":"quantitative","scale":{"domain":[-1.117,1.119],"nice":false,"zero":false},"axis":null},
    "order":{"field":"i","type":"quantitative"}
   }},
  {"data":{"values":[{"x":1.0,"y":0.906,"t":"peak=23.6; f.c.=0.27 (mJy/beam)"}]},
   "mark":{"type":"text","align":"left","baseline":"alphabetic","font":"Liberation Serif","fontSize":25,"color":"black"},
   "encoding":{
    "x":{"field":"x","type":"quantitative","scale":{"domain":[1.124,-1.124],"nice":false,"zero":false},"axis":null},
    "y":{"field":"y","type":"quantitative","scale":{"domain":[-1.117,1.119],"nice":false,"zero":false},"axis":null},
    "text":{"field":"t"}
   }}
 ],
 "resolve":{"axis":{"x":"independent","y":"independent"}}
},
{
 "width":526,"height":525,
 "title":{"text":"1027+392 1.66 GHz"},
 "layer":[
  {"data":{"name":"B"},
   "mark":{"type":"line","interpolate":"cardinal-closed","clip":true,"color":"#111","strokeWidth":1.3},
   "encoding":{
    "x":{"field":"x","type":"quantitative","scale":{"domain":[1.276,-1.274],"nice":false,"zero":false},"axis":{"orient":"bottom","values":[1,0.5,0,-0.5,-1],"labelExpr":"datum.value < 0 ? '-' + format(-datum.value, '.1f') : format(datum.value, '.1f')"}},
    "y":{"field":"y","type":"quantitative","scale":{"domain":[-1.266,1.271],"nice":false,"zero":false},"axis":{"orient":"left","values":[-1,-0.5,0,0.5,1],"labelExpr":"datum.value < 0 ? '-' + format(-datum.value, '.1f') : format(datum.value, '.1f')"}},
    "detail":{"field":"c","type":"nominal"},
    "order":{"field":"i","type":"quantitative"},
    "strokeDash":{"field":"s","type":"nominal","scale":{"domain":["p","n"],"range":[[1,0],[4,3]]},"legend":null}
   }},
  {"data":{"name":"BX"},
   "mark":{"type":"rect","fill":"white","stroke":"#333","strokeWidth":1.2},
   "encoding":{
    "x":{"field":"x1","type":"quantitative","scale":{"domain":[1.276,-1.274],"nice":false,"zero":false},"axis":{"orient":"top","values":[1,0.5,0,-0.5,-1],"labels":false}},
    "x2":{"field":"x2"},
    "y":{"field":"y1","type":"quantitative","scale":{"domain":[-1.266,1.271],"nice":false,"zero":false},"axis":{"orient":"right","values":[-1,-0.5,0,0.5,1],"labels":false}},
    "y2":{"field":"y2"}
   }},
  {"data":{"name":"BB"},
   "mark":{"type":"line","interpolate":"cardinal-closed","color":"#111","strokeWidth":1.8},
   "encoding":{
    "x":{"field":"x","type":"quantitative","scale":{"domain":[1.276,-1.274],"nice":false,"zero":false},"axis":null},
    "y":{"field":"y","type":"quantitative","scale":{"domain":[-1.266,1.271],"nice":false,"zero":false},"axis":null},
    "order":{"field":"i","type":"quantitative"}
   }},
  {"data":{"values":[{"x":1.129,"y":1.029,"t":"peak=58.0; f.c.=0.39 (mJy/beam)"}]},
   "mark":{"type":"text","align":"left","baseline":"alphabetic","font":"Liberation Serif","fontSize":25,"color":"black"},
   "encoding":{
    "x":{"field":"x","type":"quantitative","scale":{"domain":[1.276,-1.274],"nice":false,"zero":false},"axis":null},
    "y":{"field":"y","type":"quantitative","scale":{"domain":[-1.266,1.271],"nice":false,"zero":false},"axis":null},
    "text":{"field":"t"}
   }}
 ],
 "resolve":{"axis":{"x":"independent","y":"independent"}}
}
]
}
